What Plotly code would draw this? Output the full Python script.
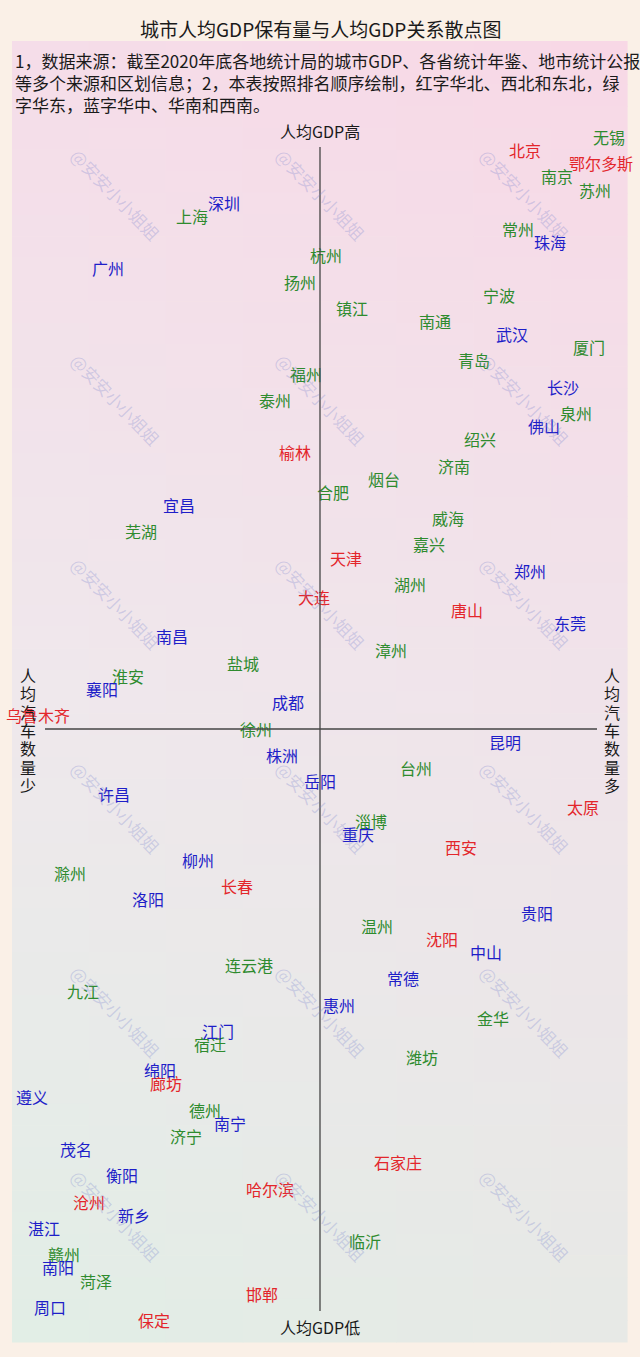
import plotly.graph_objects as go

# ---------------- data ----------------
cities = ["无锡", "北京", "鄂尔多斯", "南京", "苏州", "深圳", "上海", "常州", "珠海", "杭州",
          "广州", "扬州", "宁波", "镇江", "南通", "武汉", "厦门", "青岛", "福州", "长沙",
          "泰州", "泉州", "佛山", "绍兴", "榆林", "济南", "烟台", "合肥", "宜昌", "威海",
          "芜湖", "嘉兴", "天津", "郑州", "湖州", "大连", "唐山", "东莞", "南昌", "漳州",
          "盐城", "淮安", "襄阳", "成都", "乌鲁木齐", "徐州", "昆明", "株洲", "台州", "岳阳",
          "许昌", "太原", "淄博", "重庆", "西安", "柳州", "滁州", "长春", "洛阳", "贵阳",
          "温州", "沈阳", "中山", "连云港", "常德", "九江", "惠州", "金华", "江门", "宿迁",
          "潍坊", "绵阳", "廊坊", "遵义", "德州", "南宁", "济宁", "茂名", "石家庄", "衡阳",
          "哈尔滨", "沧州", "新乡", "湛江", "临沂", "赣州", "南阳", "菏泽", "邯郸", "周口",
          "保定"]

# relative per-capita car ownership (0 = axis centre; negative = fewer cars)
car_index = [289, 205, 281, 237, 275, -96, -128, 198, 230, 6,
             -212, -20, 179, 32, 115, 192, 269, 154, -14, 243,
             -45, 256, 224, 160, -25, 134, 64, 13, -141, 128,
             -179, 109, 26, 210, 90, -6, 147, 250, -148, 71,
             -77, -192, -218, -32, -282, -64, 185, -38, 96, 0,
             -206, 263, 51, 38, 141, -122, -250, -83, -172, 217,
             57, 122, 166, -71, 83, -237, 19, 173, -102, -110,
             102, -160, -154, -288, -115, -90, -134, -244, 78, -198,
             -50, -231, -186, -276, 45, -256, -262, -224, -58, -270,
             -166]

# per-capita GDP rank (1 = highest)
gdp_rank = list(range(1, len(cities) + 1))

# N = 华北/西北/东北 (red), E = 华东 (green), S = 华中/华南/西南 (blue)
region = ["E", "N", "N", "E", "E", "S", "E", "E", "S", "E",
          "S", "E", "E", "E", "E", "S", "E", "E", "E", "S",
          "E", "E", "S", "E", "N", "E", "E", "E", "S", "E",
          "E", "E", "N", "S", "E", "N", "N", "S", "S", "E",
          "E", "E", "S", "S", "N", "E", "S", "S", "E", "S",
          "S", "N", "E", "S", "N", "S", "E", "N", "S", "S",
          "E", "N", "S", "E", "S", "E", "S", "E", "S", "E",
          "E", "S", "N", "S", "E", "S", "E", "S", "N", "S",
          "N", "N", "S", "S", "E", "E", "S", "E", "N", "S",
          "N"]

region_colors = {"N": "#E3262B", "E": "#2E8B2E", "S": "#1E1EC8"}
region_names = {"N": "华北、西北和东北", "E": "华东", "S": "华中、华南和西南"}

title_text = "城市人均GDP保有量与人均GDP关系散点图"
note_lines = ["1，数据来源：截至2020年底各地统计局的城市GDP、各省统计年鉴、地市统计公报",
              "等多个来源和区划信息；2，本表按照排名顺序绘制，红字华北、西北和东北，绿",
              "字华东，蓝字华中、华南和西南。"]
top_label = "人均GDP高"
bottom_label = "人均GDP低"
left_label = "人均汽车数量少"
right_label = "人均汽车数量多"
watermark = "@安安小小姐姐"

# ---------------- layout helpers ----------------
W, H = 640, 1357
FONT = "Noto Sans CJK SC"
STEP = 13.1444          # px per rank
Y0AX = 140              # px at which rank 1 sits on the axis (text renders ~3px higher)


def px_x(p):
    return p - 320


def px_y(p):
    return 1 + (p - Y0AX) / STEP


def paper_y(p):
    return 1 - p / H


fig = go.Figure()

for key in ["N", "E", "S"]:
    idx = [i for i, r in enumerate(region) if r == key]
    fig.add_trace(go.Scatter(
        x=[car_index[i] for i in idx],
        y=[gdp_rank[i] for i in idx],
        text=[cities[i] for i in idx],
        mode="text",
        textposition="middle center",
        textfont=dict(family=FONT, size=16, color=region_colors[key]),
        name=region_names[key],
        hoverinfo="text",
        showlegend=False,
    ))

shapes = []


def hex2rgb(h):
    h = h.lstrip("#")
    return [int(h[i:i + 2], 16) for i in (0, 2, 4)]

stops_left = [hex2rgb("#F5DDE9"), hex2rgb("#EFE8EC"), hex2rgb("#E1EEE6")]
stops_right = [hex2rgb("#F8D8E6"), hex2rgb("#F0E3EA"), hex2rgb("#E7E9E6")]


def interp3(stops, t):
    if t <= 0.5:
        a, b, u = stops[0], stops[1], t / 0.5
    else:
        a, b, u = stops[1], stops[2], (t - 0.5) / 0.5
    return [a[k] + (b[k] - a[k]) * u for k in range(3)]

PX0, PX1, PY0, PY1 = 12, 627, 41, 1342
NR, NC = 60, 8
for r in range(NR):
    ty = (r + 0.5) / NR
    cl = interp3(stops_left, ty)
    cr = interp3(stops_right, ty)
    for c in range(NC):
        tx = (c + 0.5) / NC
        col = [round(cl[k] + (cr[k] - cl[k]) * tx) for k in range(3)]
        x0 = PX0 + (PX1 - PX0) * c / NC
        x1 = PX0 + (PX1 - PX0) * (c + 1) / NC
        y0 = PY0 + (PY1 - PY0) * r / NR
        y1 = PY0 + (PY1 - PY0) * (r + 1) / NR
        shapes.append(dict(type="rect", xref="paper", yref="paper",
                           x0=x0 / W, x1=(x1 + 0.6) / W,
                           y0=paper_y(y0), y1=paper_y(y1 + 0.6),
                           fillcolor="rgb(%d,%d,%d)" % tuple(col),
                           line=dict(width=0), layer="below"))

# quadrant axes
shapes.append(dict(type="line", xref="x", yref="y", x0=0, x1=0,
                   y0=px_y(147), y1=px_y(1311),
                   line=dict(color="#444444", width=1.3), layer="above"))
shapes.append(dict(type="line", xref="x", yref="y", x0=px_x(45), x1=px_x(597),
                   y0=px_y(729), y1=px_y(729),
                   line=dict(color="#444444", width=1.3), layer="above"))

annotations = []
# watermarks
for wy in [194, 399, 603, 807, 1011, 1215]:
    for wx in [116, 321, 525]:
        annotations.append(dict(xref="x", yref="y", x=px_x(wx), y=px_y(wy),
                                text=watermark, showarrow=False, textangle=46,
                                xanchor="center", yanchor="middle",
                                font=dict(family=FONT, size=17, color="rgba(120,130,205,0.28)")))

annotations.append(dict(xref="paper", yref="paper", x=0.5, y=paper_y(29),
                        text=title_text, showarrow=False, xanchor="center", yanchor="middle",
                        font=dict(family=FONT, size=19, color="#1a1a1a")))
annotations.append(dict(xref="paper", yref="paper", x=13 / W, y=paper_y(46),
                        text="<br>".join(note_lines), showarrow=False, align="left",
                        xanchor="left", yanchor="top",
                        font=dict(family=FONT, size=17, color="#1a1a1a")))
annotations.append(dict(xref="x", yref="y", x=0, y=px_y(131), text=top_label,
                        showarrow=False, xanchor="center", yanchor="middle",
                        font=dict(family=FONT, size=16, color="#1a1a1a")))
annotations.append(dict(xref="x", yref="y", x=0, y=px_y(1327), text=bottom_label,
                        showarrow=False, xanchor="center", yanchor="middle",
                        font=dict(family=FONT, size=16, color="#1a1a1a")))
for lbl, lx in [(left_label, 28), (right_label, 612)]:
    for k, ch in enumerate(lbl):
        annotations.append(dict(xref="x", yref="y", x=px_x(lx), y=px_y(675 + k * 18.3),
                                text=ch, showarrow=False, xanchor="center", yanchor="middle",
                                font=dict(family=FONT, size=16, color="#1a1a1a")))

fig.update_layout(
    width=W, height=H,
    margin=dict(l=0, r=0, t=0, b=0),
    paper_bgcolor="#FAF0E7",
    plot_bgcolor="#FAF0E7",
    showlegend=False,
    xaxis=dict(range=[-320, 320], visible=False, fixedrange=True),
    yaxis=dict(range=[px_y(H), px_y(0)], visible=False, fixedrange=True),
    shapes=shapes,
    annotations=annotations,
)

fig.write_html("out.html")
